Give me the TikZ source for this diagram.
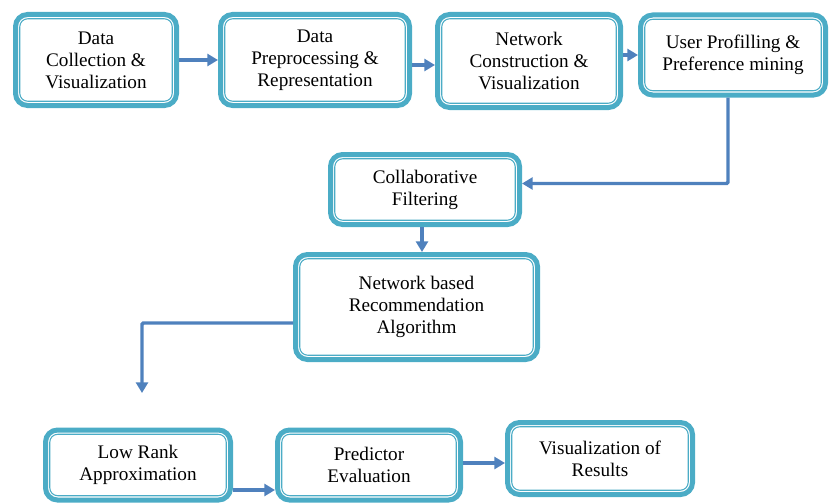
\documentclass[tikz,border=0pt]{standalone}
\usepackage{fontspec}
\setmainfont{Liberation Serif}
\usepackage{tikz}
\usetikzlibrary{calc,positioning,arrows.meta}
\definecolor{boxteal}{RGB}{75,172,198}
\definecolor{arrowblue}{RGB}{79,129,189}
\tikzstyle{stage} = [rectangle, rounded corners=9pt, draw=boxteal, line width=3.75pt, fill=white, align=center, inner sep=0pt, font=\fontsize{14.4}{16.5}\selectfont,
	path picture={\draw[boxteal, line width=0.8pt, rounded corners=6pt] ([shift={(3.2pt,3.2pt)}]path picture bounding box.south west) rectangle ([shift={(-3.2pt,-3.2pt)}]path picture bounding box.north east);}]
\tikzstyle{arrow} = [draw=arrowblue, line width=2.6pt, -{Triangle[length=8pt,width=9pt]}]
\begin{document}
\begin{tikzpicture}[x=0.75pt,y=-0.75pt]
		\useasboundingbox (0,0) rectangle (830,503);

		% top row
		\node[stage, minimum width=120.75pt, minimum height=68.25pt] (collect) at (96,60) {Data\\Collection \&\\Visualization};
		\node[stage, minimum width=141.75pt, minimum height=68.25pt] (preproc) at (315,60) {Data\\Preprocessing \&\\Representation};
		\node[stage, minimum width=137.25pt, minimum height=69.75pt] (netcons) at (529,61) {Network\\Construction \&\\Visualization};
		\node[stage, minimum width=138.75pt, minimum height=60pt] (profile) at (733,55) {User Profilling \&\\Preference mining};

		% middle
		\node[stage, minimum width=141.75pt, minimum height=52.5pt] (collab) at (425,189.5) {Collaborative\\Filtering};
		\node[stage, minimum width=181.5pt, minimum height=78.75pt] (netrec) at (416.5,307) {Network based\\Recommendation\\Algorithm};

		% bottom row
		\node[stage, minimum width=138.75pt, minimum height=52.5pt] (lowrank) at (138,465) {Low Rank\\Approximation};
		\node[stage, minimum width=137.25pt, minimum height=52.5pt] (predict) at (369,465) {Predictor\\Evaluation};
		\node[stage, minimum width=138.75pt, minimum height=54pt] (results) at (600,458.5) {Visualization of\\Results};
		\coordinate (drop) at (142,393);

		\draw[arrow] (collect.east) -- (collect.east -| preproc.west);
		\draw[arrow] ([yshift=-3.75pt]preproc.east) -- ([yshift=-3.75pt]preproc.east -| netcons.west);
		\draw[arrow] ([yshift=4.5pt]netcons.east) -- ([yshift=4.5pt]netcons.east -| profile.west);
		\draw[arrow, rounded corners=1pt] ([xshift=-3.75pt]profile.south) |- ([yshift=4.5pt]collab.east);
		\draw[arrow] ([xshift=-2.25pt]collab.south) -- ([xshift=-2.25pt]collab.south |- netrec.north);
		\draw[arrow, rounded corners=1pt] ([yshift=-12pt]netrec.west) -| (drop);
		\draw[arrow] ([yshift=-18.75pt]lowrank.east) -- ([yshift=-18.75pt]lowrank.east -| predict.west);
		\draw[arrow] ([yshift=1.5pt]predict.east) -- ([yshift=1.5pt]predict.east -| results.west);
	\end{tikzpicture}
\end{document}
